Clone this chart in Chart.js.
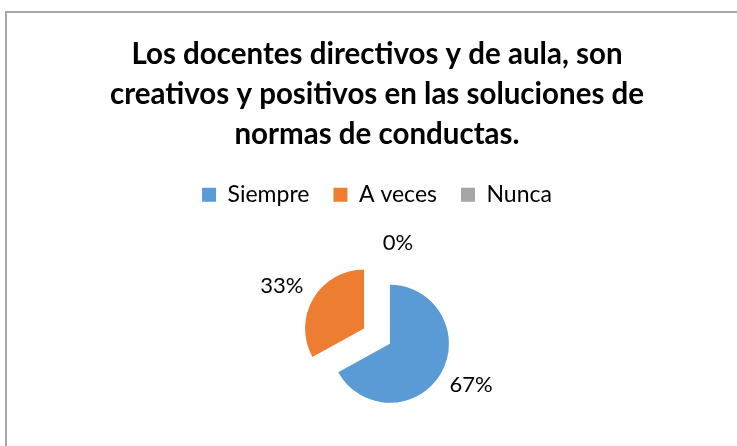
<!DOCTYPE html>
<html lang="es">
<head>
    <meta charset="UTF-8">
    <title>Docentes creativos y positivos</title>
    <script src="https://cdn.jsdelivr.net/npm/chart.js"></script>
    <style>
        body { margin: 0; background: #fff; }
        #marco {
            position: absolute; left: 5px; top: 11px; width: 800px; height: 500px;
            border-top: 2px solid #a6a6a6; border-left: 2px solid #a6a6a6;
        }
        #grafico { position: absolute; left: 0; top: 0; }
    </style>
</head>
<body>
    <div id="marco"></div>
    <canvas id="grafico" width="737" height="446"></canvas>

    <script>
        // datos
        const categorias = ['Siempre', 'A veces', 'Nunca'];
        const porcentajes = [67, 33, 0];
        const colores = ['#5B9BD5', '#ED7D31', '#A5A5A5'];
        const titulo = [
            'Los docentes directivos y de aula, son',
            'creativos y positivos en las soluciones de',
            'normas de conductas.'
        ];

        // separa las porciones (como en Excel) sin inflar el radio
        const separarPorciones = {
            id: 'separarPorciones',
            afterLayout(chart, args, opts) {
                // baja un poco el area del pastel
                chart.chartArea.top += opts.bajarArea;
                chart.chartArea.bottom += opts.bajarArea;
            },
            beforeDatasetsDraw(chart, args, opts) {
                chart.getDatasetMeta(0).data.forEach(arc => {
                    const mid = (arc.startAngle + arc.endAngle) / 2;
                    arc._x0 = arc.x; arc._y0 = arc.y;
                    arc.x += Math.cos(mid) * opts.distancia;
                    arc.y += Math.sin(mid) * opts.distancia;
                });
            },
            afterDatasetsDraw(chart, args, opts) {
                const ctx = chart.ctx;
                const meta = chart.getDatasetMeta(0);
                ctx.save();
                ctx.font = opts.fuente;
                ctx.fillStyle = opts.color;
                ctx.textAlign = 'center';
                ctx.textBaseline = 'middle';
                meta.data.forEach((arc, i) => {
                    const mid = (arc.startAngle + arc.endAngle) / 2;
                    const d = arc.outerRadius + opts.separacionEtiqueta;
                    const ajuste = opts.ajustes[i] || [0, 0];
                    const x = arc.x + Math.cos(mid) * d + ajuste[0];
                    const y = arc.y + Math.sin(mid) * d + ajuste[1];
                    ctx.fillText(porcentajes[i] + '%', x, y);
                    arc.x = arc._x0; arc.y = arc._y0;
                });
                ctx.restore();
            }
        };

        const ctx = document.getElementById('grafico').getContext('2d');
        new Chart(ctx, {
            type: 'pie',
            data: {
                labels: categorias,
                datasets: [{
                    data: porcentajes,
                    backgroundColor: colores,
                    borderWidth: 0
                }]
            },
            options: {
                responsive: false,
                animation: false,
                radius: 59,
                layout: { padding: { left: 17, right: 0, top: 0, bottom: 0 } },
                plugins: {
                    title: {
                        display: true,
                        text: titulo,
                        color: '#000',
                        font: { family: 'Lato', size: 29.5, weight: 'bold', lineHeight: 1.36 },
                        padding: { top: 34, bottom: 5 }
                    },
                    legend: {
                        position: 'top',
                        labels: {
                            color: '#000',
                            font: { family: 'Lato', size: 23 },
                            boxWidth: 14,
                            boxHeight: 14,
                            padding: 24
                        }
                    },
                    tooltip: { enabled: false },
                    separarPorciones: {
                        bajarArea: 5,
                        distancia: 15,
                        separacionEtiqueta: 33,
                        fuente: '22px Lato',
                        color: '#000',
                        ajustes: [[2, -6], [-3, 4], [21, 14]]
                    }
                }
            },
            plugins: [separarPorciones]
        });
    </script>
</body>
</html>
